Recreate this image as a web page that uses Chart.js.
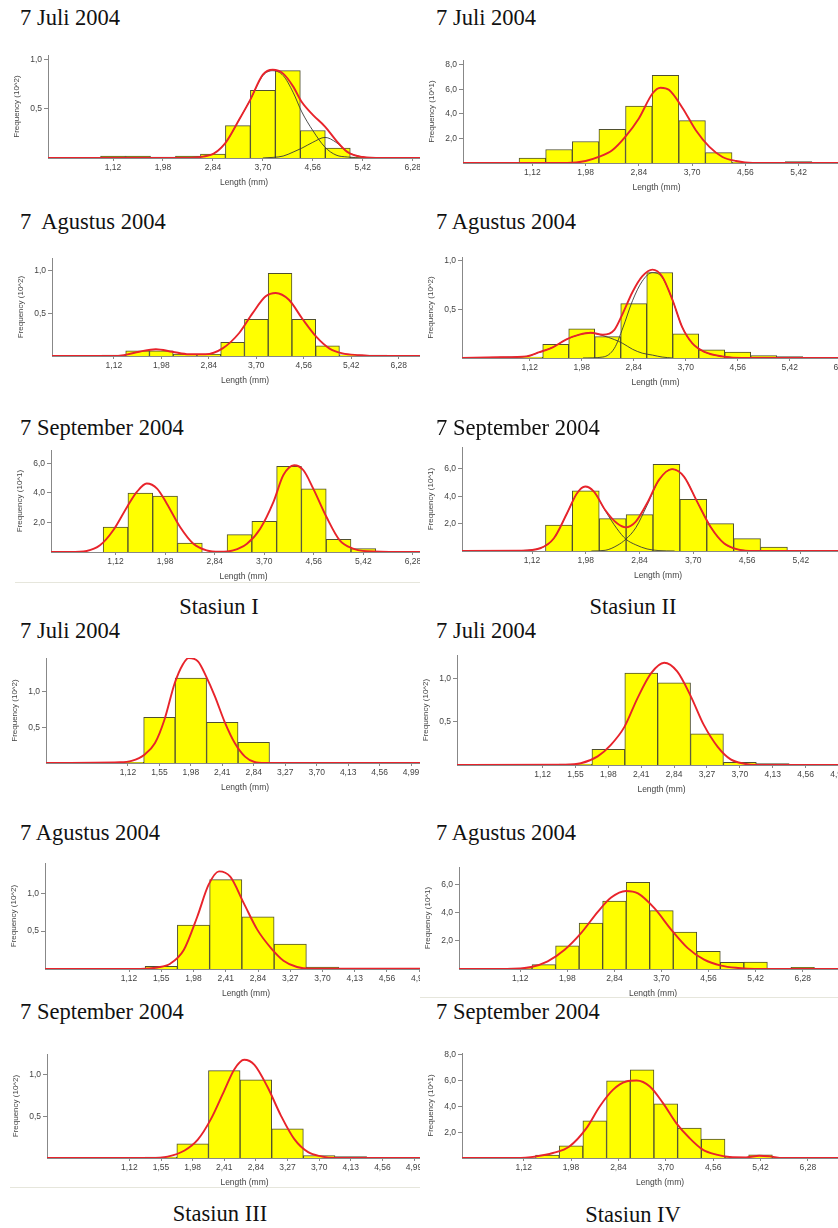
<!DOCTYPE html>
<html>
<head>
<meta charset="utf-8">
<script src="https://cdn.jsdelivr.net/npm/chart.js@4.4.0/dist/chart.umd.min.js"></script>
<style>
    body { margin: 0; width: 838px; height: 1228px; overflow: hidden; background: #fff; position: relative; }
    .col { position: absolute; top: 0; height: 1228px; overflow: hidden; }
    .ttl { position: absolute; font-family: "Liberation Serif", serif; font-size: 22.5px; line-height: 22px; white-space: pre; color: #111; }
    .mid { transform: translateX(-50%); }
    .sep { position: absolute; height: 1px; background: #e6e6dc; }
    canvas { position: absolute; }
</style>
</head>
<body>
<div id="colL" class="col" style="left:0;width:420px"></div>
<div id="colR" class="col" style="left:420px;width:418px"></div>
<script>
// ticks (mm and frequency)
const ticksWide = [1.12, 1.98, 2.84, 3.70, 4.56, 5.42, 6.28];
const ticksNarrow = [1.12, 1.55, 1.98, 2.41, 2.84, 3.27, 3.70, 4.13, 4.56, 4.99];
const ticksY1 = [0.5, 1.0];
const ticksY10 = [2, 4, 6, 8];

// Stasiun I - 7 Juli 2004
const s1JuliBins = [1.12, 1.55, 1.98, 2.41, 2.84, 3.27, 3.70, 4.13, 4.56, 4.99, 5.42];
const s1JuliFreq = [0.02, 0.02, 0.01, 0.02, 0.04, 0.33, 0.69, 0.89, 0.28, 0.10, 0.01];
const s1JuliFitX = [0, 2.27, 2.79, 3.05, 3.30, 3.48, 3.70, 3.87, 4.05, 4.22, 4.37, 4.56, 4.77, 4.96, 5.16, 5.42, 5.71, 8];
const s1JuliFitY = [0, 0, 0.03, 0.15, 0.40, 0.59, 0.85, 0.90, 0.86, 0.73, 0.57, 0.44, 0.32, 0.18, 0.06, 0.01, 0, 0];
const s1JuliCompAX = [2.27, 2.79, 3.05, 3.30, 3.48, 3.70, 3.87, 4.05, 4.22, 4.37, 4.56, 4.77, 4.96, 5.16, 5.42];
const s1JuliCompAY = [0, 0.03, 0.15, 0.40, 0.59, 0.84, 0.89, 0.84, 0.67, 0.47, 0.28, 0.11, 0.03, 0.01, 0];
const s1JuliCompBX = [3.70, 4.05, 4.22, 4.37, 4.56, 4.77, 4.96, 5.16, 5.42, 5.71];
const s1JuliCompBY = [0, 0.02, 0.06, 0.10, 0.16, 0.21, 0.16, 0.06, 0.01, 0];

// Stasiun II - 7 Juli 2004
const s2JuliBins = [1.12, 1.55, 1.98, 2.41, 2.84, 3.27, 3.70, 4.13, 4.56, 4.99, 5.42];
const s2JuliFreq = [0.4, 1.1, 1.75, 2.75, 4.65, 7.15, 3.45, 0.85, 0.06, 0, 0.12];
const s2JuliFitX = [0, 1.68, 1.98, 2.19, 2.41, 2.62, 2.84, 3.06, 3.19, 3.33, 3.55, 3.76, 3.98, 4.19, 4.41, 4.68, 8];
const s2JuliFitY = [0, 0, 0.16, 0.49, 1.04, 2.13, 3.63, 5.67, 6.14, 5.95, 4.45, 2.67, 1.31, 0.49, 0.16, 0, 0];

// Stasiun I - 7 Agustus 2004
const s1AguBins = [1.12, 1.55, 1.98, 2.41, 2.84, 3.27, 3.70, 4.13, 4.56, 4.99, 5.42, 5.85];
const s1AguFreq = [0.01, 0.06, 0.06, 0.02, 0.02, 0.16, 0.43, 0.97, 0.43, 0.12, 0.015, 0.01];
const s1AguFitX = [0, 1.10, 1.30, 1.58, 1.88, 2.18, 2.48, 2.78, 3.09, 3.39, 3.63, 3.87, 4.05, 4.29, 4.53, 4.78, 5.02, 5.26, 5.56, 5.9, 8];
const s1AguFitY = [0, 0, 0.01, 0.05, 0.08, 0.05, 0.02, 0.02, 0.09, 0.27, 0.50, 0.70, 0.74, 0.66, 0.44, 0.23, 0.09, 0.03, 0.01, 0, 0];

// Stasiun II - 7 Agustus 2004
const s2AguBins = [0.69, 1.12, 1.55, 1.98, 2.41, 2.84, 3.27, 3.70, 4.13, 4.56, 4.99, 5.42];
const s2AguFreq = [0.01, 0.01, 0.14, 0.30, 0.22, 0.56, 0.88, 0.25, 0.085, 0.06, 0.024, 0.014];
const s2AguFitX = [0, 0.62, 1.07, 1.28, 1.50, 1.72, 1.94, 2.13, 2.33, 2.52, 2.66, 2.82, 2.98, 3.15, 3.31, 3.48, 3.64, 3.81, 4.02, 4.30, 4.63, 8];
const s2AguFitY = [0, 0.007, 0.017, 0.06, 0.11, 0.19, 0.24, 0.26, 0.24, 0.29, 0.46, 0.68, 0.84, 0.91, 0.84, 0.60, 0.32, 0.15, 0.06, 0.017, 0, 0];
const s2AguCompAX = [0.62, 1.07, 1.28, 1.50, 1.72, 1.94, 2.13, 2.33, 2.52, 2.66, 2.82, 2.98, 3.15, 3.31, 3.48];
const s2AguCompAY = [0.007, 0.017, 0.06, 0.11, 0.19, 0.24, 0.26, 0.23, 0.19, 0.15, 0.09, 0.05, 0.03, 0.01, 0];
const s2AguCompBX = [2.0, 2.33, 2.52, 2.66, 2.82, 2.98, 3.15, 3.31, 3.48, 3.64, 3.81, 4.02, 4.30, 4.6];
const s2AguCompBY = [0, 0.01, 0.10, 0.31, 0.59, 0.79, 0.88, 0.83, 0.60, 0.32, 0.15, 0.06, 0.017, 0];

// Stasiun I - 7 September 2004
const s1SepBins = [1.12, 1.55, 1.98, 2.41, 2.84, 3.27, 3.70, 4.13, 4.56, 4.99, 5.42, 5.85];
const s1SepFreq = [1.69, 3.99, 3.79, 0.61, 0, 1.17, 2.08, 5.80, 4.27, 0.86, 0.23, 0.03];
const s1SepFitX = [0, 0.33, 0.62, 0.85, 1.08, 1.32, 1.49, 1.66, 1.84, 2.01, 2.24, 2.47, 2.70, 2.93, 3.16, 3.40, 3.63, 3.86, 4.03, 4.22, 4.38, 4.55, 4.78, 5.01, 5.24, 5.48, 6.05, 8];
const s1SepFitY = [0, 0, 0.07, 0.45, 1.47, 3.05, 4.06, 4.63, 4.29, 3.27, 1.69, 0.56, 0.11, 0.02, 0.11, 0.56, 1.58, 3.39, 5.19, 5.87, 5.53, 4.29, 2.37, 0.79, 0.23, 0.05, 0, 0];

// Stasiun II - 7 September 2004
const s2SepBins = [1.55, 1.98, 2.41, 2.84, 3.27, 3.70, 4.13, 4.56, 4.99, 5.42];
const s2SepFreq = [1.90, 4.39, 2.37, 2.66, 6.34, 3.78, 2.00, 0.90, 0.29, 0.05];
const s2SepFitX = [0, 0.93, 1.25, 1.47, 1.68, 1.84, 1.97, 2.11, 2.29, 2.48, 2.62, 2.78, 2.96, 3.15, 3.36, 3.55, 3.76, 3.98, 4.19, 4.41, 4.67, 8];
const s2SepFitY = [0, 0.02, 0.2, 0.93, 2.76, 4.22, 4.71, 4.34, 3.0, 2.02, 1.73, 2.15, 3.49, 5.2, 5.98, 5.44, 3.61, 1.73, 0.56, 0.12, 0, 0];
const s2SepCompAX = [0.93, 1.25, 1.47, 1.68, 1.84, 1.97, 2.11, 2.29, 2.48, 2.62, 2.78, 2.96, 3.15, 3.4];
const s2SepCompAY = [0.02, 0.2, 0.93, 2.76, 4.22, 4.71, 4.34, 2.95, 1.62, 0.87, 0.45, 0.15, 0.03, 0];
const s2SepCompBX = [2.07, 2.29, 2.48, 2.62, 2.78, 2.96, 3.15, 3.36, 3.55, 3.76, 3.98, 4.19, 4.41, 4.67];
const s2SepCompBY = [0, 0.05, 0.40, 0.86, 1.70, 3.34, 5.17, 5.98, 5.44, 3.61, 1.73, 0.56, 0.12, 0];

// Stasiun III - 7 Juli 2004
const s3JuliBins = [1.12, 1.55, 1.98, 2.41, 2.84];
const s3JuliFreq = [0.01, 0.64, 1.19, 0.57, 0.29];
const s3JuliFitX = [0, 1.01, 1.17, 1.35, 1.49, 1.62, 1.76, 1.87, 1.95, 2.08, 2.19, 2.31, 2.44, 2.58, 2.72, 2.85, 2.99, 8];
const s3JuliFitY = [0, 0.01, 0.03, 0.12, 0.28, 0.61, 1.12, 1.38, 1.47, 1.42, 1.21, 0.93, 0.58, 0.28, 0.09, 0.014, 0, 0];

// Stasiun IV - 7 Juli 2004
const s4JuliBins = [1.55, 1.98, 2.41, 2.84, 3.27, 3.70, 4.13];
const s4JuliFreq = [0.01, 0.18, 1.06, 0.95, 0.36, 0.03, 0.015];
const s4JuliFitX = [0, 1.40, 1.62, 1.84, 2.01, 2.19, 2.36, 2.54, 2.71, 2.88, 3.06, 3.23, 3.41, 3.58, 3.76, 3.93, 8];
const s4JuliFitY = [0, 0.004, 0.02, 0.10, 0.23, 0.44, 0.77, 1.06, 1.18, 1.08, 0.79, 0.46, 0.21, 0.065, 0.015, 0, 0];

// Stasiun III - 7 Agustus 2004
const s3AguBins = [1.55, 1.98, 2.41, 2.84, 3.27, 3.70];
const s3AguFreq = [0.035, 0.58, 1.18, 0.69, 0.33, 0.026];
const s3AguFitX = [0, 1.27, 1.50, 1.67, 1.85, 2.03, 2.18, 2.32, 2.47, 2.65, 2.83, 3.01, 3.18, 3.36, 3.54, 8];
const s3AguFitY = [0, 0, 0.02, 0.07, 0.25, 0.69, 1.11, 1.29, 1.22, 0.87, 0.52, 0.28, 0.11, 0.026, 0.004, 0];

// Stasiun IV - 7 Agustus 2004
const s4AguBins = [1.12, 1.55, 1.98, 2.41, 2.84, 3.27, 3.70, 4.13, 4.56, 4.99, 5.42, 5.85, 6.28];
const s4AguFreq = [0.07, 0.31, 1.65, 3.25, 4.82, 6.14, 4.14, 2.61, 1.25, 0.47, 0.49, 0, 0.12];
const s4AguFitX = [0, 0.89, 1.32, 1.62, 1.93, 2.23, 2.54, 2.78, 3.05, 3.27, 3.57, 3.88, 4.18, 4.48, 4.79, 5.10, 5.40, 8];
const s4AguFitY = [0, 0, 0.14, 0.54, 1.36, 2.54, 4.07, 5.06, 5.53, 5.36, 4.31, 2.78, 1.48, 0.66, 0.24, 0.07, 0, 0];

// Stasiun III - 7 September 2004
const s3SepBins = [1.55, 1.98, 2.41, 2.84, 3.27, 3.70, 4.13];
const s3SepFreq = [0.01, 0.17, 1.05, 0.94, 0.35, 0.03, 0.016];
const s3SepFitX = [0, 1.41, 1.64, 1.87, 2.05, 2.23, 2.41, 2.55, 2.68, 2.82, 3.00, 3.18, 3.36, 3.55, 3.73, 3.91, 8];
const s3SepFitY = [0, 0, 0.016, 0.09, 0.22, 0.47, 0.81, 1.07, 1.18, 1.12, 0.85, 0.51, 0.23, 0.07, 0.02, 0, 0];

// Stasiun IV - 7 September 2004
const s4SepBins = [1.12, 1.55, 1.98, 2.41, 2.84, 3.27, 3.70, 4.13, 4.56, 4.99, 5.42, 5.85, 6.28];
const s4SepFreq = [0.02, 0.23, 0.95, 2.89, 5.99, 6.84, 4.21, 2.32, 1.47, 0.05, 0.25, 0.05, 0.02];
const s4SepFitX = [0, 0.99, 1.35, 1.65, 1.95, 2.26, 2.50, 2.74, 2.98, 3.17, 3.41, 3.65, 3.89, 4.13, 4.37, 4.62, 4.86, 5.16, 5.40, 5.58, 5.83, 8];
const s4SepFitY = [0, 0, 0.13, 0.39, 0.90, 2.32, 4.0, 5.29, 5.94, 6.01, 5.55, 4.26, 2.71, 1.55, 0.65, 0.26, 0.08, 0.05, 0.18, 0.13, 0, 0];

const RED = '#e8232b';
const colL = document.getElementById('colL');
const colR = document.getElementById('colR');

function zip(xs, ys) {
    return xs.map((x, i) => ({ x: x, y: ys[i] }));
}

function addText(col, text, x, y, centered) {
    const d = document.createElement('div');
    d.className = 'ttl' + (centered ? ' mid' : '');
    d.textContent = text;
    d.style.left = (col === colR ? x - 420 : x) + 'px';
    d.style.top = (y - 11) + 'px';
    col.appendChild(d);
}

function addSep(col, x, y, w) {
    const d = document.createElement('div');
    d.className = 'sep';
    d.style.left = (col === colR ? x - 420 : x) + 'px';
    d.style.top = y + 'px';
    d.style.width = w + 'px';
    col.appendChild(d);
}

// one histogram panel; geometry in page pixels
function drawPanel(col, g, bins, freq, fitX, fitY, comps, xTicks, yTicks, yTitle) {
    const padTop = 10, axisW = 40, axisH = 30;
    const offX = col === colR ? 420 : 0;
    const w = axisW + (g.right - g.axisX);
    const h = padTop + (g.base - g.top) + axisH;
    const cv = document.createElement('canvas');
    cv.width = w;
    cv.height = h;
    cv.style.width = w + 'px';
    cv.style.height = h + 'px';
    cv.style.left = (g.axisX - axisW - offX) + 'px';
    cv.style.top = (g.top - padTop) + 'px';
    col.appendChild(cv);

    const datasets = [{
        type: 'line',
        data: zip(fitX, fitY),
        borderColor: RED,
        borderWidth: 1.9,
        pointRadius: 0,
        cubicInterpolationMode: 'monotone',
        order: 1
    }];
    comps.forEach(c => {
        datasets.push({
            type: 'line',
            data: zip(c[0], c[1]),
            borderColor: '#3a3a3a',
            borderWidth: 0.9,
            pointRadius: 0,
            cubicInterpolationMode: 'monotone',
            order: 2
        });
    });
    datasets.push({
        type: 'bar',
        data: zip(bins, freq).filter(d => d.y > 0),
        backgroundColor: '#ffff00',
        borderColor: '#4f4f2f',
        borderWidth: 1,
        barPercentage: 1,
        categoryPercentage: 1,
        order: 3
    });

    const tickFont = { family: 'Liberation Sans', size: 8.5 };
    new Chart(cv, {
        type: 'bar',
        data: { datasets: datasets },
        options: {
            responsive: false,
            animation: false,
            devicePixelRatio: 1,
            layout: { padding: { top: padTop, left: 0, right: 0, bottom: 0 } },
            plugins: { legend: { display: false }, tooltip: { enabled: false } },
            scales: {
                x: {
                    type: 'linear',
                    min: 0,
                    max: g.xmax,
                    offset: false,
                    afterBuildTicks: s => { s.ticks = xTicks.filter(v => v <= g.xmax).map(v => ({ value: v })); },
                    afterFit: s => { s.height = axisH; },
                    ticks: {
                        autoSkip: false, maxRotation: 0, padding: 2, color: '#444', font: tickFont,
                        callback: v => v.toFixed(2).replace('.', ',')
                    },
                    grid: { display: true, drawOnChartArea: false, offset: false, tickLength: 3, color: '#888' },
                    border: { color: '#888' },
                    title: { display: true, text: 'Length (mm)', color: '#444', font: tickFont, padding: { top: 0, bottom: 0 } }
                },
                y: {
                    min: 0,
                    max: g.ymax,
                    afterBuildTicks: s => { s.ticks = yTicks.filter(v => v <= g.ymax).map(v => ({ value: v })); },
                    afterFit: s => { s.width = axisW; },
                    ticks: {
                        padding: 2, color: '#444', font: tickFont,
                        callback: v => v.toFixed(1).replace('.', ',')
                    },
                    grid: { display: true, drawOnChartArea: false, tickLength: 4, color: '#888' },
                    border: { color: '#888' },
                    title: { display: true, text: yTitle, color: '#444', font: { family: 'Liberation Sans', size: 8 }, padding: { top: 4, bottom: 2 } }
                }
            }
        }
    });
}

const f2 = 'Frequency (10^2)';
const f1 = 'Frequency (10^1)';

drawPanel(colL, { axisX: 48, top: 55, base: 158, right: 440, xmax: 6.75, ymax: 1.05 },
    s1JuliBins, s1JuliFreq, s1JuliFitX, s1JuliFitY,
    [[s1JuliCompAX, s1JuliCompAY], [s1JuliCompBX, s1JuliCompBY]], ticksWide, ticksY1, f2);
drawPanel(colR, { axisX: 463, top: 60, base: 163, right: 850, xmax: 6.25, ymax: 8.4 },
    s2JuliBins, s2JuliFreq, s2JuliFitX, s2JuliFitY, [], ticksWide, ticksY10, f1);
drawPanel(colL, { axisX: 52, top: 258, base: 356, right: 438, xmax: 6.99, ymax: 1.15 },
    s1AguBins, s1AguFreq, s1AguFitX, s1AguFitY, [], ticksWide, ticksY1, f2);
drawPanel(colR, { axisX: 462, top: 257, base: 358, right: 852, xmax: 6.4, ymax: 1.04 },
    s2AguBins, s2AguFreq, s2AguFitX, s2AguFitY,
    [[s2AguCompAX, s2AguCompAY], [s2AguCompBX, s2AguCompBY]], ticksWide, ticksY1, f2);
drawPanel(colL, { axisX: 51, top: 450, base: 552, right: 436, xmax: 6.68, ymax: 6.9 },
    s1SepBins, s1SepFreq, s1SepFitX, s1SepFitY, [], ticksWide, ticksY10, f1);
drawPanel(colR, { axisX: 462, top: 447, base: 551, right: 854, xmax: 6.27, ymax: 7.6 },
    s2SepBins, s2SepFreq, s2SepFitX, s2SepFitY,
    [[s2SepCompAX, s2SepCompAY], [s2SepCompBX, s2SepCompBY]], ticksWide, ticksY10, f1);
drawPanel(colL, { axisX: 46, top: 658, base: 763, right: 444, xmax: 5.44, ymax: 1.47 },
    s3JuliBins, s3JuliFreq, s3JuliFitX, s3JuliFitY, [], ticksNarrow, ticksY1, f2);
drawPanel(colR, { axisX: 457, top: 655, base: 765, right: 866, xmax: 5.35, ymax: 1.27 },
    s4JuliBins, s4JuliFreq, s4JuliFitX, s4JuliFitY, [], ticksNarrow, ticksY1, f2);
drawPanel(colL, { axisX: 45, top: 863, base: 969, right: 447, xmax: 5.36, ymax: 1.40 },
    s3AguBins, s3AguFreq, s3AguFitX, s3AguFitY, [], ticksNarrow, ticksY1, f2);
drawPanel(colR, { axisX: 459, top: 867, base: 969, right: 847, xmax: 7.09, ymax: 7.23 },
    s4AguBins, s4AguFreq, s4AguFitX, s4AguFitY, [], ticksWide, ticksY10, f1);
drawPanel(colL, { axisX: 47, top: 1054, base: 1158, right: 442, xmax: 5.37, ymax: 1.25 },
    s3SepBins, s3SepFreq, s3SepFitX, s3SepFitY, [], ticksNarrow, ticksY1, f2);
drawPanel(colR, { axisX: 462, top: 1053, base: 1158, right: 858, xmax: 7.19, ymax: 8.15 },
    s4SepBins, s4SepFreq, s4SepFitX, s4SepFitY, [], ticksWide, ticksY10, f1);

// titles
addText(colL, '7 Juli 2004', 20, 18);
addText(colL, '7  Agustus 2004', 20, 222);
addText(colL, '7 September 2004', 20, 428);
addText(colL, 'Stasiun I', 219, 607, true);
addText(colL, '7 Juli 2004', 20, 631);
addText(colL, '7 Agustus 2004', 20, 833);
addText(colL, '7 September 2004', 20, 1012);
addText(colL, 'Stasiun III', 220, 1214, true);

addText(colR, '7 Juli 2004', 436, 18);
addText(colR, '7 Agustus 2004', 436, 222);
addText(colR, '7 September 2004', 436, 428);
addText(colR, 'Stasiun II', 633, 607, true);
addText(colR, '7 Juli 2004', 436, 631);
addText(colR, '7 Agustus 2004', 436, 833);
addText(colR, '7 September 2004', 436, 1012);
addText(colR, 'Stasiun IV', 633, 1215, true);

addSep(colL, 15, 582, 405);
addSep(colR, 420, 997, 418);
addSep(colL, 10, 1187, 410);
</script>
</body>
</html>
